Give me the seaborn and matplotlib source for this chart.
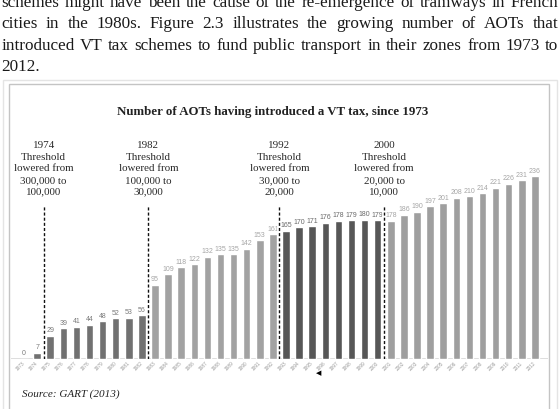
import matplotlib
matplotlib.use("Agg")
import matplotlib.pyplot as plt
import matplotlib.transforms as mtransforms
from matplotlib.patches import Rectangle
import seaborn as sns
import pandas as pd

# --- data ---
years = [str(y) for y in range(1973, 2013)]
aots = [0, 7, 29, 39, 41, 44, 48, 52, 53, 56,
        95, 109, 118, 122, 132, 135, 135, 142, 153, 161,
        165, 170, 171, 176, 178, 179, 180, 179,
        178, 186, 190, 197, 201, 208, 210, 214, 221, 226, 231, 236]
periods = (["1973-1982"] * 10 + ["1983-1992"] * 10
           + ["1993-2000"] * 8 + ["2001-2012"] * 12)
period_colors = {"1973-1982": "#717171", "1983-1992": "#a2a2a2",
                 "1993-2000": "#575757", "2001-2012": "#9f9f9f"}
label_colors = {"1973-1982": "#7c7c7c", "1983-1992": "#a6a6a6",
                "1993-2000": "#6a6a6a", "2001-2012": "#a6a6a6"}

# threshold changes: dashed line drawn right after these years
change_years = ["1974", "1982", "1992", "2000"]
change_notes = ["1974\nThreshold\nlowered from\n300,000 to\n100,000",
                "1982\nThreshold\nlowered from\n100,000 to\n30,000",
                "1992\nThreshold\nlowered from\n30,000 to\n20,000",
                "2000\nThreshold\nlowered from\n20,000 to\n10,000"]

paragraph = ["schemes might have been the cause of the re-emergence of tramways in French",
             "cities in the 1980s. Figure 2.3 illustrates the growing number of AOTs that",
             "introduced VT tax schemes to fund public transport in their zones from 1973 to",
             "2012."]

title = "Number of AOTs having introduced a VT tax, since 1973"
source = "Source: GART (2013)"

SERIF = ["Liberation Serif", "DejaVu Serif"]
SANS = ["Liberation Sans Narrow", "Liberation Sans", "DejaVu Sans"]

sns.set_theme(style="white")
plt.rcParams["font.family"] = SERIF

W, H = 560, 409
fig = plt.figure(figsize=(W / 100, H / 100), dpi=100)
fig.patch.set_facecolor("white")


def fy(y_px):
    return 1 - y_px / H


# --- paragraph text above the figure box (justified) ---
renderer = fig.canvas.get_renderer()


def justify(line, y_px, x0, x1, last=False):
    words = line.split()
    texts = [fig.text(0, 0, w, fontsize=12.3, family=SERIF, color="#1a1a1a",
                      va="baseline", ha="left") for w in words]
    widths = [t.get_window_extent(renderer).width for t in texts]
    if last or len(words) == 1:
        gap = 4.0
    else:
        gap = (x1 - x0 - sum(widths)) / (len(words) - 1)
    x = x0
    for t, w in zip(texts, widths):
        t.set_position((x / W, fy(y_px)))
        x += w + gap


for i, line in enumerate(paragraph):
    justify(line, 7.0 + 21.3 * i, 1.5, 558.5, last=(i == len(paragraph) - 1))

# --- figure box ---
fig.add_artist(Rectangle((3 / W, fy(440)), 554 / W, (440 - 80) / H,
                         transform=fig.transFigure, fill=False,
                         edgecolor="#e4e4e4", lw=1.0))
fig.add_artist(Rectangle((8.5 / W, fy(440)), 540.5 / W, (440 - 84) / H,
                         transform=fig.transFigure, fill=False,
                         edgecolor="#c4c4c4", lw=1.0))

fig.text(273 / W, fy(112), title, fontsize=9.3, family=SERIF,
         fontweight="bold", color="#222222", ha="center", va="center")

# --- bars ---
x_left, x_right = 10.9, 548.0
base_px, top_px = 358.5, 126.9
ax = fig.add_axes([x_left / W, fy(base_px), (x_right - x_left) / W,
                   (base_px - top_px) / H])
ax.patch.set_alpha(0)

df = pd.DataFrame({"year": years, "aots": aots, "period": periods})
sns.barplot(data=df, x="year", y="aots", hue="period", palette=period_colors,
            dodge=False, width=0.58, saturation=1, legend=False, ax=ax)

for cont, per in zip(ax.containers, period_colors):
    ax.bar_label(cont, fmt="%d", padding=1.2, fontsize=5.0, family=SANS,
                 color=label_colors[per])

ax.set_xlim(-1, 40)
ax.set_ylim(0, 300)
ax.set_xlabel("")
ax.set_ylabel("")
ax.set_yticks([])
for s in ax.spines.values():
    s.set_visible(False)
ax.axhline(0, color="#d8d8d8", lw=1.2, zorder=0)
ax.set_xticks(range(len(years)))
ax.set_xticklabels(years, rotation=45, ha="right", va="center",
                   rotation_mode="anchor", fontsize=3.4, family=SANS,
                   color="#9a9a9a")
ax.tick_params(axis="x", length=0, pad=3)

# --- threshold change markers ---
blend = mtransforms.blended_transform_factory(ax.transData, fig.transFigure)
for yr, note in zip(change_years, change_notes):
    xpos = years.index(yr) + 0.5
    ax.vlines(xpos, 0, 199, color="white", lw=2.6, zorder=5)
    ax.vlines(xpos, 0, 199, color="#111111", lw=1.0, zorder=6,
              linestyles=(0, (2.2, 1.5)))
    fig.text(xpos, fy(168.8), note, transform=blend, fontsize=7.9,
             family=SERIF, color="#2a2a2a", ha="center", va="center",
             multialignment="center", linespacing=1.38)

fig.text(22 / W, fy(394), source, fontsize=8, family=SERIF, style="italic",
         color="#222222", ha="left", va="center")
fig.text(319 / W, fy(373), "\u25C0", fontsize=5, family=["DejaVu Sans"],
         color="black", ha="center", va="center")

fig.savefig("out.png", dpi=100)
